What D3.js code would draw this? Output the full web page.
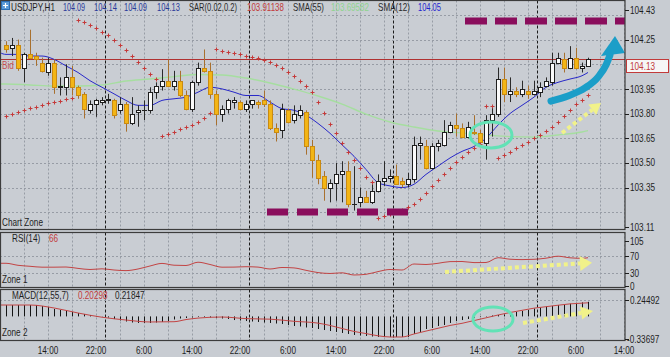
<!DOCTYPE html>
<html><head><meta charset="utf-8">
<script src="https://cdn.jsdelivr.net/npm/d3@7"></script>
<style>body{margin:0;background:#c8ccd2;overflow:hidden}svg{display:block}</style>
</head><body><svg id="c" width="670" height="357"></svg>
<script>
// ---------------- DATA ----------------
const candleOpen  = [104.22,104.20,104.22,104.08,104.16,104.15,104.11,104.05,104.11,103.96,103.96,104.02,103.96,103.92,103.82,103.86,103.87,103.88,103.88,103.82,103.86,103.74,103.81,103.82,103.82,103.93,103.97,104.00,103.97,104.00,103.91,103.83,103.99,104.08,104.06,103.92,103.80,103.83,103.87,103.87,103.83,103.86,103.87,103.88,103.86,103.71,103.70,103.82,103.76,103.79,103.81,103.60,103.52,103.42,103.35,103.38,103.43,103.45,103.25,103.26,103.29,103.26,103.33,103.39,103.41,103.42,103.39,103.37,103.40,103.61,103.60,103.47,103.60,103.61,103.69,103.73,103.71,103.66,103.69,103.68,103.62,103.76,103.80,104.01,103.92,103.94,103.92,103.94,103.92,103.93,103.97,103.99,104.11,104.13,104.08,104.14,104.08,104.09];
const candleHigh  = [104.24,104.26,104.25,104.17,104.31,104.17,104.14,104.14,104.13,104.02,104.10,104.09,103.97,103.93,103.88,103.89,103.90,103.92,103.89,103.90,103.87,103.90,103.85,103.88,103.96,103.99,104.07,104.13,104.06,104.06,103.94,104.00,104.11,104.19,104.11,103.94,103.85,103.89,103.90,103.88,103.88,103.88,103.88,103.94,103.88,103.74,103.86,103.83,103.85,103.85,103.82,103.64,103.55,103.45,103.40,103.50,103.51,103.51,103.48,103.35,103.33,103.37,103.43,103.51,103.46,103.49,103.41,103.44,103.66,103.66,103.64,103.62,103.64,103.76,103.75,103.80,103.74,103.75,103.79,103.70,103.79,103.85,104.08,104.08,104.02,103.96,104.00,103.97,104.00,103.99,104.02,104.17,104.17,104.17,104.21,104.20,104.11,104.14];
const candleLow   = [104.17,104.15,104.06,103.99,104.13,104.09,104.05,104.03,103.92,103.91,103.91,103.91,103.89,103.77,103.80,103.78,103.85,103.86,103.77,103.80,103.69,103.73,103.72,103.76,103.80,103.89,103.94,103.96,103.94,103.90,103.82,103.81,103.97,104.05,103.89,103.73,103.75,103.80,103.83,103.82,103.81,103.83,103.83,103.84,103.70,103.63,103.65,103.74,103.74,103.77,103.55,103.41,103.37,103.27,103.26,103.27,103.26,103.23,103.21,103.23,103.26,103.25,103.32,103.36,103.38,103.37,103.35,103.35,103.38,103.52,103.46,103.46,103.57,103.60,103.68,103.66,103.65,103.65,103.67,103.61,103.52,103.66,103.78,103.87,103.87,103.90,103.90,103.89,103.91,103.90,103.96,103.97,104.10,104.05,104.07,104.07,104.05,104.09];
const candleClose = [104.19,104.22,104.08,104.16,104.14,104.13,104.06,104.11,103.96,103.97,104.02,103.96,103.91,103.83,103.86,103.88,103.88,103.89,103.79,103.86,103.74,103.80,103.82,103.82,103.93,103.97,104.00,103.97,104.00,103.91,103.83,103.99,104.08,104.06,103.92,103.80,103.83,103.88,103.88,103.83,103.86,103.88,103.86,103.86,103.71,103.69,103.83,103.75,103.80,103.82,103.60,103.52,103.41,103.35,103.38,103.43,103.45,103.25,103.25,103.29,103.26,103.33,103.39,103.41,103.42,103.37,103.37,103.40,103.61,103.62,103.47,103.60,103.62,103.69,103.73,103.71,103.66,103.72,103.68,103.63,103.76,103.80,104.01,103.92,103.94,103.92,103.95,103.92,103.94,103.96,104.00,104.11,104.14,104.08,104.14,104.08,104.09,104.13];
const sarValues = [103.785,103.797,103.810,103.822,103.834,103.840,103.852,103.864,103.870,103.876,103.889,103.895,
 104.369,104.357,104.339,104.321,104.296,104.278,104.248,104.217,104.187,104.150,104.114,104.077,104.041,104.010,
 103.664,103.676,103.688,103.706,103.718,103.730,103.749,103.773,103.803,
 104.193,104.181,104.175,104.168,104.162,104.150,104.144,104.138,104.126,104.114,104.095,104.077,104.053,104.029,103.998,103.968,103.931,103.870,103.803,103.737,103.682,103.621,103.566,103.518,103.469,103.414,103.384,
 103.165,103.177,103.189,103.201,103.213,103.232,103.250,103.280,103.317,103.359,103.396,103.432,103.469,103.505,103.536,103.566,103.591,103.615,
 103.846,103.846,
 103.530,103.548,103.566,103.591,103.609,103.627,103.651,103.670,103.694,103.718,103.749,103.785,103.822,103.858,103.883,103.911];
// [bar, value]
const sma12Points = [[-1,104.17],[0,104.16],[2,104.16],[4,104.15],[6,104.15],[8,104.13],[10,104.09],[12,104.05],[14,104.00],[16,103.96],[18,103.92],[20,103.88],[22,103.85],[24,103.85],[26,103.88],[28,103.89],[30,103.90],[32,103.93],[34,103.96],[36,103.95],[38,103.93],[40,103.91],[42,103.91],[44,103.87],[46,103.83],[48,103.82],[50,103.79],[52,103.74],[54,103.68],[56,103.61],[58,103.54],[60,103.46],[62,103.38],[64,103.36],[66,103.35],[68,103.37],[70,103.43],[72,103.48],[74,103.53],[76,103.57],[78,103.60],[80,103.65],[82,103.73],[84,103.80],[86,103.85],[88,103.90],[90,103.96],[92,103.99],[94,104.01],[96,104.03],[97,104.05]];
const sma55Points = [[-1,103.98],[0,103.98],[4,103.974],[8,103.968],[12,103.968],[16,103.974],[20,103.998],[24,104.010],[28,104.025],[32,104.038],[36,104.035],[40,104.016],[44,103.986],[48,103.949],[52,103.907],[56,103.858],[60,103.797],[64,103.749],[68,103.718],[72,103.694],[76,103.682],[80,103.670],[84,103.660],[88,103.657],[92,103.670],[96,103.688],[97,103.696]];
const rsiPoints = [[-1,53],[0,53],[2,48.3],[4,46.0],[6,43.9],[8,43.9],[10,44.3],[12,41.1],[14,38.5],[16,40.1],[18,37.3],[20,35.9],[22,39.7],[24,46.7],[26,52.7],[28,48.5],[30,47.8],[32,55.5],[34,50.2],[36,43.9],[38,44.1],[40,45.0],[42,44.1],[44,39.7],[46,43.2],[48,42.2],[50,36.6],[52,31.3],[54,29.2],[56,30.8],[58,25.7],[60,27.3],[62,33.6],[64,38.5],[66,37.3],[68,51.3],[70,50.2],[72,53.0],[74,56.9],[76,57.2],[78,54.6],[80,54.8],[82,66.0],[84,62.5],[86,61.6],[88,62.3],[90,64.9],[92,69.5],[94,65.8],[96,64.6],[97,66]];
const macdHist = [0.170,0.170,0.170,0.170,0.170,0.170,0.155,0.140,0.111,0.096,0.081,0.066,0.051,0.036,0.021,0.006,0.003,-0.016,-0.039,-0.061,-0.076,-0.091,-0.098,-0.098,-0.098,-0.091,-0.083,-0.069,-0.046,-0.031,-0.024,-0.016,-0.009,-0.009,-0.016,-0.024,-0.031,-0.039,-0.054,-0.061,-0.069,-0.076,-0.083,-0.091,-0.098,-0.106,-0.113,-0.128,-0.143,-0.150,-0.165,-0.173,-0.188,-0.203,-0.218,-0.232,-0.247,-0.262,-0.277,-0.285,-0.292,-0.300,-0.307,-0.307,-0.307,-0.307,-0.307,-0.307,-0.262,-0.232,-0.188,-0.173,-0.143,-0.128,-0.098,-0.069,-0.054,-0.039,-0.024,-0.009,0.006,0.014,0.021,0.029,0.044,0.066,0.081,0.096,0.118,0.133,0.148,0.155,0.170,0.178,0.190,0.200,0.210,0.218];
const macdSignalPoints = [[-1,0.170],[0,0.170],[4,0.170],[8,0.126],[12,0.051],[16,-0.012],[20,-0.054],[24,-0.083],[28,-0.079],[30,-0.047],[32,-0.025],[36,-0.009],[40,-0.033],[44,-0.041],[48,-0.073],[52,-0.100],[54,-0.135],[56,-0.180],[58,-0.224],[60,-0.256],[62,-0.289],[64,-0.307],[66,-0.307],[68,-0.262],[70,-0.219],[72,-0.177],[74,-0.135],[76,-0.103],[78,-0.062],[80,-0.021],[82,0.021],[84,0.058],[86,0.091],[88,0.123],[90,0.145],[92,0.167],[94,0.187],[96,0.198],[97,0.203]];
const timeTickLabels = ["14:00","22:00","6:00","14:00","22:00","6:00","14:00","22:00","6:00","14:00","22:00","6:00","14:00"];
const priceTickLabels = [104.43,104.25,103.95,103.80,103.65,103.50,103.35,103.11];
const priceGridLevels = [104.40,104.25,104.10,103.95,103.80,103.65,103.50,103.35,103.20];
const rsiTickLabels = [105,70,30,0];
const rsiGridLevels = [70,30];
const macdTickLabels = [0.24492,-0.33697];
const bidPrice = 104.13;
// [text, colour, left x, width]
const titleParts = [["USDJPY,H1","#1e1e1e",11,44],["104.09","#2a3a9a",63,22],["104.14","#2a3a9a",94,23],["104.09","#2a3a9a",124,23],["104.13","#2a3a9a",157,23],["SAR(0.02,0.2)","#2a2a2a",189,48],["103.91138","#c23a3a",247,37],["SMA(55)","#2a2a2a",293,31],["103.69582","#8fd48f",331,38],["SMA(12)","#2a2a2a",378,32],["104.05","#2424d0",418,23]];

// ---------------- SCALES ----------------
const FONT = "'Liberation Sans',Arial,sans-serif";
const NARROW = 0.82;
const svg = d3.select('#c');
const RIGHT = 625;
const x = d3.scaleLinear().domain([0, 97]).range([6, 588]);
const y = d3.scaleLinear().domain([103.11, 104.43]).range([227, 10]);
const yR = d3.scaleLinear().domain([0, 105]).range([286, 241]);
const yM = d3.scaleLinear().domain([-0.33697, 0.24492]).range([339, 300]);
const panels = [{id:'pm',t:0.5,b:229.5},{id:'pr',t:232.5,b:287.5},{id:'pd',t:289.5,b:340.5}];

// condensed text: horizontal scale transform
function ctext(parent, xx, yy, s, col, anchor, w){
  const g = parent.append('g');
  const t = g.append('text').attr('x',0).attr('y',0).text(s)
    .attr('font-family',FONT).attr('font-size',10).attr('text-anchor',anchor||'start').attr('fill',col||'#1e1e1e');
  const L = t.node().getComputedTextLength();
  const sx = w && L>0 ? w/L : NARROW;
  g.attr('transform',`translate(${xx},${yy}) scale(${sx.toFixed(4)},1)`);
  return g;
}

svg.append('rect').attr('width',670).attr('height',357).attr('fill','#c8ccd2');
const defs = svg.append('defs');
panels.forEach(p=>{
  defs.append('clipPath').attr('id',p.id).append('rect').attr('x',0).attr('y',p.t).attr('width',RIGHT).attr('height',p.b-p.t);
  svg.append('rect').attr('x',0.5).attr('y',p.t).attr('width',RIGHT-0.5).attr('height',p.b-p.t).attr('fill','#c9cdd3');
});

// vertical grid + period separators
const gridBars = d3.range(3, 104, 4);
const sepBars = [16.5, 40.5, 64.5, 88.5];
panels.forEach(p=>{
  const g = svg.append('g').attr('clip-path',`url(#${p.id})`);
  g.selectAll('line.vg').data(gridBars).join('line')
    .attr('x1',d=>Math.round(x(d))+0.5).attr('x2',d=>Math.round(x(d))+0.5)
    .attr('y1',p.t).attr('y2',p.b).attr('stroke','#979ca5').attr('stroke-dasharray','2,2');
  g.selectAll('line.sp').data(sepBars).join('line')
    .attr('x1',d=>Math.round(x(d))+0.5).attr('x2',d=>Math.round(x(d))+0.5)
    .attr('y1',p.t).attr('y2',p.b).attr('stroke','#1a1a1a').attr('stroke-dasharray','3,2');
});

// horizontal grids
const gm = svg.append('g').attr('clip-path','url(#pm)');
gm.selectAll('line.hg').data(priceGridLevels).join('line')
  .attr('x1',0).attr('x2',RIGHT).attr('y1',d=>Math.round(y(d))+0.5).attr('y2',d=>Math.round(y(d))+0.5)
  .attr('stroke','#979ca5').attr('stroke-dasharray','2,2');
const gr = svg.append('g').attr('clip-path','url(#pr)');
gr.selectAll('line').data(rsiGridLevels).join('line')
  .attr('x1',0).attr('x2',RIGHT).attr('y1',d=>Math.round(yR(d))+0.5).attr('y2',d=>Math.round(yR(d))+0.5)
  .attr('stroke','#979ca5').attr('stroke-dasharray','2,2');
const gd = svg.append('g').attr('clip-path','url(#pd)');
gd.append('line').attr('x1',0).attr('x2',RIGHT).attr('y1',Math.round(yM(macdTickLabels[0]))+0.5).attr('y2',Math.round(yM(macdTickLabels[0]))+0.5)
  .attr('stroke','#979ca5').attr('stroke-dasharray','2,2');

// bid line
gm.append('line').attr('x1',0).attr('x2',RIGHT).attr('y1',Math.round(y(bidPrice))+0.5).attr('y2',Math.round(y(bidPrice))+0.5)
  .attr('stroke','#b03232').attr('stroke-width',1);
ctext(gm, 2, 69, 'Bid', '#c65050');

// SMA lines
const lineGen = (sc)=>d3.line().x(d=>x(d[0])).y(d=>sc(d[1])).curve(d3.curveMonotoneX);
gm.append('path').attr('d',lineGen(y)(sma55Points)).attr('fill','none').attr('stroke','#a6dea0').attr('stroke-width',1.4);
gm.append('path').attr('d',lineGen(y)(sma12Points)).attr('fill','none').attr('stroke','#2828c8').attr('stroke-width',1);

// candles
const candles = candleOpen.map((o,i)=>({i,o,h:candleHigh[i],l:candleLow[i],c:candleClose[i]}));
const cg = gm.append('g');
candles.forEach(d=>{
  const cx = Math.round(x(d.i));
  const bull = d.c >= d.o;
  const doji = Math.abs(d.c-d.o) < 0.004;
  cg.append('line').attr('x1',cx+0.5).attr('x2',cx+0.5).attr('y1',y(d.h)).attr('y2',y(d.l))
    .attr('stroke', bull ? '#2a2a2a' : '#a8702e').attr('stroke-width',1);
  const top = Math.round(y(Math.max(d.o,d.c))), bot = Math.round(y(Math.min(d.o,d.c)));
  if (doji) {
    cg.append('line').attr('x1',cx-2).attr('x2',cx+3).attr('y1',top+0.5).attr('y2',top+0.5).attr('stroke','#222');
  } else {
    cg.append('rect').attr('x',cx-1.5).attr('y',top+0.5).attr('width',4).attr('height',Math.max(1,bot-top))
      .attr('fill', bull ? '#fafafa' : '#f3b515').attr('stroke', bull ? '#1e1e1e' : '#c98a12').attr('stroke-width',1);
  }
});

// SAR crosses
const sg = gm.append('g').attr('stroke','#c53a3a').attr('stroke-width',1);
sarValues.forEach((v,i)=>{
  const cx = Math.round(x(i))+0.5, cy = Math.round(y(v))+0.5;
  sg.append('line').attr('x1',cx-2).attr('x2',cx+2).attr('y1',cy).attr('y2',cy);
  sg.append('line').attr('x1',cx).attr('x2',cx).attr('y1',cy-2).attr('y2',cy+2);
});

// RSI line
gr.append('path').attr('d',lineGen(yR)(rsiPoints)).attr('fill','none').attr('stroke','#c24444').attr('stroke-width',1);

// MACD histogram + signal
gd.selectAll('line.h').data(macdHist).join('line')
  .attr('x1',(d,i)=>Math.round(x(i))+0.5).attr('x2',(d,i)=>Math.round(x(i))+0.5)
  .attr('y1',yM(0)).attr('y2',d=>yM(d)).attr('stroke','#141414').attr('stroke-width',1);
gd.append('path').attr('d',lineGen(yM)(macdSignalPoints)).attr('fill','none').attr('stroke','#c24444').attr('stroke-width',1);

// ---------------- ANNOTATIONS (in data coordinates) ----------------
const purple = '#8a0d5c';
gm.append('line').attr('x1',x(76.5)).attr('x2',x(103.5)).attr('y1',y(104.363)).attr('y2',y(104.363))
  .attr('stroke',purple).attr('stroke-width',7).attr('stroke-dasharray','22,8');
gm.append('line').attr('x1',x(43.5)).attr('x2',x(67.3)).attr('y1',y(103.201)).attr('y2',y(103.201))
  .attr('stroke',purple).attr('stroke-width',7).attr('stroke-dasharray','21,9');

const mint = '#62e2b6';
gm.append('ellipse').attr('cx',x(80.83)).attr('cy',y(103.67)).attr('rx',21).attr('ry',13)
  .attr('fill','none').attr('stroke',mint).attr('stroke-width',3);
gd.append('ellipse').attr('cx',x(81.17)).attr('cy',yM(-0.0387)).attr('rx',20).attr('ry',12)
  .attr('fill','none').attr('stroke',mint).attr('stroke-width',3);

// cyan curved arrow
const arrowShaft = [[90.83,103.876],[93.67,103.907],[96.5,103.956],[98.67,104.022],[100,104.095],[100.67,104.156]];
const arrowHead = [[101.5,104.272],[99.17,104.150],[103.17,104.168]];
gm.append('path').attr('d',lineGen(y)(arrowShaft)).attr('fill','none').attr('stroke','#1b9ec8').attr('stroke-width',7).attr('stroke-linecap','round');
svg.append('polygon').attr('points',arrowHead.map(d=>[x(d[0]),y(d[1])].join(',')).join(' ')).attr('fill','#1b9ec8');

// yellow dotted arrows
function dotArrow(g, sx, sy, tx, ty, hl, hw){
  const dx=tx-sx, dy=ty-sy, L=Math.hypot(dx,dy), ux=dx/L, uy=dy/L;
  const bx=tx-ux*hl, by=ty-uy*hl;
  g.append('line').attr('x1',sx).attr('y1',sy).attr('x2',bx).attr('y2',by)
    .attr('stroke','#f1f28a').attr('stroke-width',4).attr('stroke-dasharray','4,3');
  g.append('polygon').attr('points',[[tx,ty],[bx-uy*hw/2,by+ux*hw/2],[bx+uy*hw/2,by-ux*hw/2]].map(p=>p.join(',')).join(' '))
    .attr('fill','#f1f28a');
}
dotArrow(gm, x(92.67), y(103.682), x(99.17), y(103.864), 11, 13);
dotArrow(gr, x(73.17), yR(32.7), x(97.67), yR(54.5), 12, 15);
dotArrow(gd, x(86.17), yM(-0.098), x(97.83), yM(0.081), 12, 13);

// ---------------- PANEL BORDERS ----------------
panels.forEach(p=>{
  svg.append('rect').attr('x',0.5).attr('y',p.t).attr('width',RIGHT-0.5).attr('height',p.b-p.t)
    .attr('fill','none').attr('stroke','#3c3c3c').attr('stroke-width',1.2);
});

// ---------------- TEXT ----------------
// icon
svg.append('rect').attr('x',1.5).attr('y',1.5).attr('width',8).attr('height',8).attr('fill','#5b9bd8').attr('stroke','#2c6db2');
svg.append('path').attr('d','M5.5,3 V8 M3,5.5 H8').attr('stroke','#fff').attr('stroke-width',1.2);
titleParts.forEach(t=>ctext(svg, t[2], 11, t[0], t[1], 'start', t[3]));
ctext(svg,2,226,'Chart Zone');
ctext(svg,12,242,'RSI(14)'); ctext(svg,49,242,'66','#c23a3a');
ctext(svg,2,283,'Zone 1');
ctext(svg,12,299,'MACD(12,55,7)'); ctext(svg,78,299,'0.20298','#c23a3a'); ctext(svg,115,299,'0.21847');
ctext(svg,2,336,'Zone 2');

// right axes
const axisTick = (yy)=>svg.append('line').attr('x1',RIGHT).attr('x2',RIGHT+4).attr('y1',Math.round(yy)+0.5).attr('y2',Math.round(yy)+0.5).attr('stroke','#1e1e1e');
priceTickLabels.forEach(v=>{ axisTick(y(v)); ctext(svg,630,y(v)+3.6,v.toFixed(2)); });
rsiTickLabels.forEach(v=>{ axisTick(yR(v)); ctext(svg,630,yR(v)+3.6,String(v)); });
macdTickLabels.forEach(v=>{ axisTick(yM(v)); ctext(svg,v<0?627:630,yM(v)+3.6,(v<0?'-':'')+Math.abs(v).toFixed(5)); });
// current price box
const by0 = Math.round(y(bidPrice))+0.5;
svg.append('rect').attr('x',626.5).attr('y',by0).attr('width',42).attr('height',13).attr('fill','#f6f6f6').attr('stroke','#c23a3a');
ctext(svg,630,by0+10,bidPrice.toFixed(2),'#c23a3a');

// time axis
timeTickLabels.forEach((s,i)=>ctext(svg,x(7+8*i),354,s,'#1e1e1e','middle'));
</script></body></html>
